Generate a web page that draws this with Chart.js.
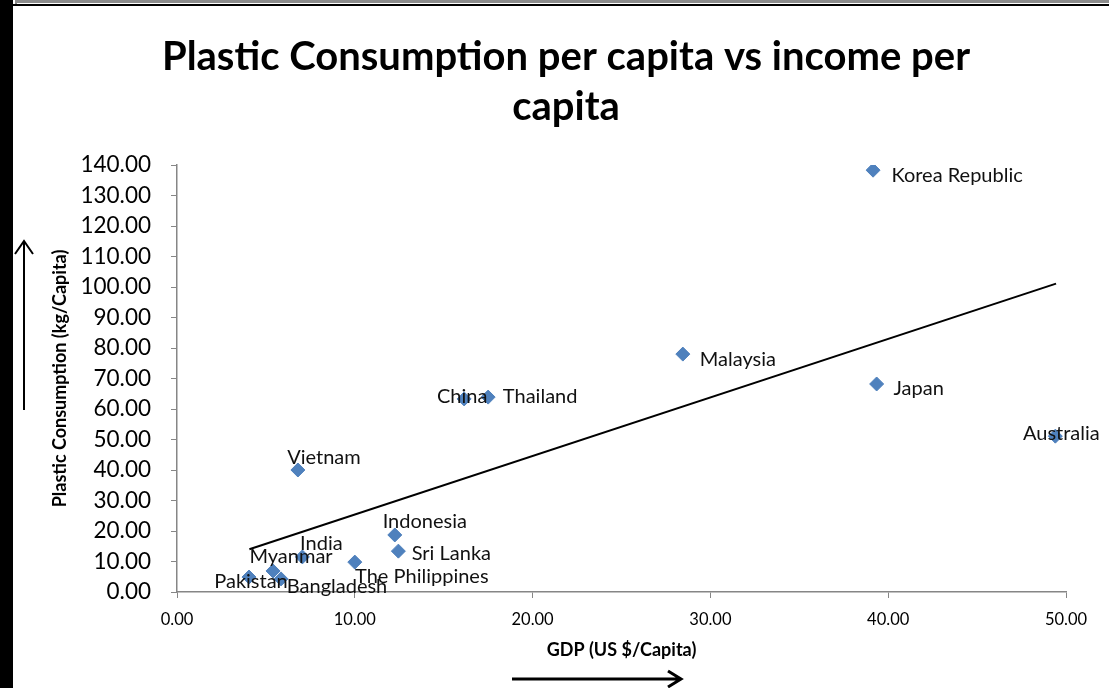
<!DOCTYPE html>
<html lang="en">
<head>
    <meta charset="UTF-8">
    <title>Plastic Consumption per capita vs income per capita</title>
    <style>
        body { margin: 0; background: #fff; }
        canvas { display: block; }
    </style>
</head>
<body>
    <canvas id="grafico" width="1109" height="688"></canvas>
<script src="https://cdn.jsdelivr.net/npm/chart.js"></script>
<script>

    // data
    const paises = ['Korea Republic', 'Malaysia', 'Japan', 'Australia', 'China', 'Thailand', 'Vietnam',
        'Indonesia', 'Sri Lanka', 'The Philippines', 'India', 'Myanmar', 'Bangladesh', 'Pakistan'];
    const gdp = [39.15, 28.45, 39.35, 49.4, 16.15, 17.5, 6.8, 12.25, 12.45, 10.0, 7.05, 5.4, 5.85, 4.05];
    const plastico = [138.3, 78.0, 68.2, 51.1, 63.3, 63.9, 40.0, 18.7, 13.4, 9.8, 11.5, 6.9, 4.3, 4.9];

    const trendX = [4.07, 49.44];
    const trendY = [14.0, 101.1];

    const yTicks = [0, 10, 20, 30, 40, 50, 60, 70, 80, 90, 100, 110, 120, 130, 140];
    const xTicks = [0, 10, 20, 30, 40, 50];

    const titulo = ['Plastic Consumption per capita vs income per', 'capita'];

    // where each label sits relative to its point (centre of text)
    const offsetsRotulos = {
        'Korea Republic': [84, 5],
        'Malaysia': [55, 5],
        'Japan': [42, 5],
        'Australia': [6, -3],
        'China': [-2, -2],
        'Thailand': [52, -1],
        'Vietnam': [26, -12],
        'Indonesia': [30, -13],
        'Sri Lanka': [53, 2],
        'The Philippines': [67, 14],
        'India': [19, -13],
        'Myanmar': [18, -14],
        'Bangladesh': [56, 8],
        'Pakistan': [2, 4]
    };

    const FONTE = 'Lato, "Open Sans", sans-serif';

    const moldura = {
        id: 'moldura',
        beforeDraw(chart) {
            const ctx = chart.ctx;
            ctx.save();
            ctx.fillStyle = '#fff';
            ctx.fillRect(0, 0, chart.width, chart.height);
            ctx.fillStyle = '#8c8c8c';
            ctx.fillRect(15, 0, chart.width - 15, 3);
            ctx.fillRect(15, 0, 2, 5);
            ctx.fillStyle = '#000';
            ctx.fillRect(13, 4, chart.width - 13, 2);
            ctx.fillRect(0, 0, 13, chart.height);
            ctx.restore();
        },
        afterDraw(chart) {
            const ctx = chart.ctx;
            ctx.save();
            // title
            ctx.fillStyle = '#000';
            ctx.font = 'bold 40px ' + FONTE;
            ctx.textAlign = 'center';
            ctx.textBaseline = 'middle';
            ctx.fillText(titulo[0], 566, 57);
            ctx.fillText(titulo[1], 566, 107);

            // arrows
            ctx.strokeStyle = '#000';
            ctx.lineWidth = 2;
            ctx.beginPath();
            ctx.moveTo(24, 410);
            ctx.lineTo(24, 241);
            ctx.moveTo(15, 254);
            ctx.lineTo(24, 241);
            ctx.lineTo(33, 254);
            ctx.stroke();
            ctx.lineWidth = 3;
            ctx.beginPath();
            ctx.moveTo(512, 679);
            ctx.lineTo(681, 679);
            ctx.moveTo(668, 671);
            ctx.lineTo(681, 679);
            ctx.lineTo(668, 687);
            ctx.stroke();

            // point labels
            const meta = chart.getDatasetMeta(1);
            ctx.font = '20px ' + FONTE;
            ctx.fillStyle = '#111';
            meta.data.forEach((p, i) => {
                const o = offsetsRotulos[paises[i]] || [0, 0];
                ctx.fillText(paises[i], p.x + o[0], p.y + o[1]);
            });
            ctx.restore();
        }
    };

    const ctx = document.getElementById('grafico');
    new Chart(ctx, {
        data: {
            datasets: [{
                type: 'line',
                label: 'Linear',
                data: trendX.map((x, i) => ({ x: x, y: trendY[i] })),
                borderColor: '#000',
                borderWidth: 2,
                pointRadius: 0,
                fill: false
            }, {
                type: 'scatter',
                label: 'Países',
                data: gdp.map((x, i) => ({ x: x, y: plastico[i] })),
                pointStyle: 'rectRot',
                pointRadius: 7,
                backgroundColor: '#4f81bd',
                borderColor: '#4f81bd',
                borderWidth: 1
            }]
        },
        options: {
            responsive: false,
            animation: false,
            layout: {
                padding: { left: 13, right: 43, top: 165, bottom: 0 }
            },
            plugins: {
                legend: { display: false },
                tooltip: { enabled: false }
            },
            scales: {
                x: {
                    type: 'linear',
                    min: 0,
                    max: 50,
                    afterBuildTicks: (s) => { s.ticks = xTicks.map(v => ({ value: v })); },
                    afterFit: (s) => { s.height = 96; },
                    grid: { drawOnChartArea: false, color: '#868686', tickLength: 6, lineWidth: 1 },
                    border: { color: '#868686', width: 1.5 },
                    ticks: {
                        color: '#000',
                        font: { family: FONTE, size: 16.5 },
                        padding: 12,
                        maxRotation: 0,
                        callback: (v) => Number(v).toFixed(2)
                    },
                    title: {
                        display: true,
                        text: 'GDP (US $/Capita)',
                        color: '#000',
                        font: { family: FONTE, size: 18, weight: 'bold' },
                        padding: { top: 0, bottom: 27 }
                    }
                },
                y: {
                    min: 0,
                    max: 140,
                    afterBuildTicks: (s) => { s.ticks = yTicks.map(v => ({ value: v })); },
                    afterFit: (s) => { s.width = 164; },
                    grid: { drawOnChartArea: false, color: '#868686', tickLength: 6, lineWidth: 1 },
                    border: { color: '#868686', width: 1.5 },
                    ticks: {
                        color: '#000',
                        font: { family: FONTE, size: 22.5 },
                        padding: 20,
                        callback: (v) => Number(v).toFixed(2)
                    },
                    title: {
                        display: true,
                        text: 'Plastic Consumption (kg/Capita)',
                        color: '#000',
                        font: { family: FONTE, size: 18, weight: 'bold' },
                        padding: { top: 36, bottom: 0 }
                    }
                }
            }
        },
        plugins: [moldura]
    });
</script>
</body>
</html>
